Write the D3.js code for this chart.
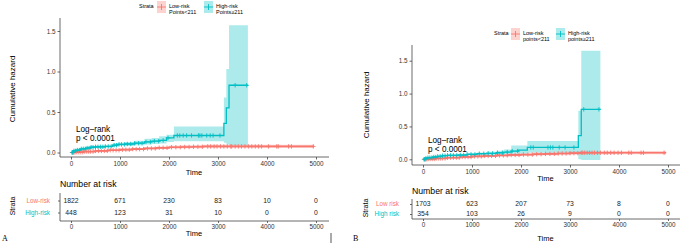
<!DOCTYPE html>
<html>
<head>
<meta charset="utf-8">
<script src="https://cdn.jsdelivr.net/npm/d3@7"></script>
<style>
  body { margin: 0; background: #fff; }
  svg text { font-family: "Liberation Sans", Arial, sans-serif; }
</style>
</head>
<body>
<div id="chart"></div>
<script>
// ---- data ----
const timeTicks = [0, 1000, 2000, 3000, 4000, 5000];
const hazTicks = [0, 0.5, 1.0, 1.5];

// Panel A, high risk (step curve + 95% band)
const hiA_time  = [0, 40, 100, 200, 300, 400, 500, 700, 850, 950, 1100, 1300, 1500, 1650, 1800, 1950, 2100, 3120, 3170, 3225, 3610];
const hiA_haz   = [0, 0.02, 0.03, 0.045, 0.055, 0.065, 0.07, 0.075, 0.09, 0.10, 0.105, 0.115, 0.13, 0.14, 0.15, 0.18, 0.21, 0.36, 0.55, 0.83, 0.83];
const hiA_upper = [0, 0.035, 0.045, 0.06, 0.07, 0.08, 0.085, 0.09, 0.11, 0.12, 0.13, 0.145, 0.17, 0.18, 0.2, 0.22, 0.32, 0.68, 1.03, 1.57, 1.57];
const hiA_lower = [0, 0.005, 0.015, 0.03, 0.04, 0.05, 0.055, 0.06, 0.07, 0.08, 0.08, 0.09, 0.1, 0.105, 0.11, 0.13, 0.14, 0.12, 0.1, 0.09, 0.09];
const hiA_cens  = [30, 60, 90, 130, 170, 210, 250, 290, 330, 370, 410, 450, 500, 550, 600, 650, 700, 760, 820, 880, 930, 980, 1030, 1090, 1150, 1220, 1300, 1380, 1450, 1530, 1620, 1700, 1790, 1880, 1980, 2170, 2220, 2290, 2360, 2460, 2600, 2630, 2670, 2770, 2840, 2900, 3040, 3350, 3585];

// Panel A, low risk
const loA_time  = [0, 100, 250, 500, 750, 1000, 1250, 1500, 1750, 2000, 2250, 2500, 2700, 4960];
const loA_haz   = [0, 0.004, 0.012, 0.02, 0.028, 0.035, 0.042, 0.05, 0.058, 0.065, 0.068, 0.071, 0.075, 0.075];
const loA_upper = [0, 0.01, 0.02, 0.03, 0.04, 0.048, 0.056, 0.065, 0.074, 0.083, 0.088, 0.092, 0.097, 0.097];
const loA_lower = [0, 0.0, 0.005, 0.011, 0.018, 0.024, 0.03, 0.037, 0.044, 0.05, 0.052, 0.054, 0.056, 0.056];
const loA_cens  = [20, 50, 80, 120, 160, 200, 240, 280, 320, 360, 400, 450, 500, 560, 620, 680, 740, 800, 860, 920, 980, 1050, 1120, 1190, 1260, 1330, 1400, 1480, 1560, 1640, 1720, 1800, 1880, 1960, 2050, 2140, 2230, 2320, 2410, 2500, 2590, 2680, 2790, 2850, 2920, 2980, 3050, 3120, 3190, 3260, 3280, 3350, 3415, 3480, 3550, 3620, 3690, 3760, 3825, 3890, 4030, 4200, 4230, 4440, 4500, 4945];

// Panel B, high risk
const hiB_time  = [0, 40, 100, 200, 300, 400, 500, 700, 900, 1100, 1300, 1500, 1650, 1800, 1950, 2130, 3170, 3230, 3620];
const hiB_haz   = [0, 0.015, 0.025, 0.035, 0.045, 0.055, 0.06, 0.065, 0.075, 0.085, 0.09, 0.10, 0.11, 0.125, 0.14, 0.18, 0.36, 0.76, 0.76];
const hiB_upper = [0, 0.03, 0.04, 0.05, 0.06, 0.07, 0.075, 0.08, 0.095, 0.105, 0.115, 0.13, 0.15, 0.21, 0.21, 0.28, 0.74, 1.65, 1.65];
const hiB_lower = [0, 0.003, 0.01, 0.02, 0.03, 0.04, 0.045, 0.05, 0.058, 0.065, 0.068, 0.074, 0.08, 0.085, 0.09, 0.1, 0.0, -0.01, -0.01];
const hiB_cens  = [30, 60, 100, 140, 180, 220, 260, 300, 350, 400, 450, 500, 560, 620, 690, 760, 830, 900, 980, 1060, 1150, 1240, 1330, 1420, 1520, 1620, 1720, 1820, 1930, 2200, 2250, 2550, 2600, 2650, 2780, 2900, 3080, 3280, 3590];

// Panel B, low risk
const loB_time  = [0, 100, 250, 500, 750, 1000, 1250, 1500, 1750, 2000, 2250, 2500, 2750, 3000, 3200, 4960];
const loB_haz   = [0, 0.005, 0.014, 0.025, 0.035, 0.045, 0.052, 0.06, 0.066, 0.072, 0.078, 0.083, 0.088, 0.093, 0.1, 0.1];
const loB_upper = [0, 0.012, 0.025, 0.038, 0.05, 0.061, 0.069, 0.078, 0.085, 0.093, 0.1, 0.107, 0.113, 0.119, 0.128, 0.128];
const loB_lower = [0, 0.0, 0.006, 0.014, 0.022, 0.03, 0.036, 0.043, 0.048, 0.053, 0.058, 0.062, 0.066, 0.07, 0.075, 0.075];
const loB_cens  = [20, 50, 80, 120, 160, 200, 240, 280, 320, 360, 400, 450, 500, 560, 620, 680, 740, 800, 860, 920, 980, 1050, 1120, 1190, 1260, 1330, 1400, 1480, 1560, 1640, 1720, 1800, 1880, 1960, 2050, 2140, 2230, 2320, 2410, 2500, 2590, 2680, 2760, 2840, 2920, 3000, 3080, 3160, 3230, 3260, 3300, 3350, 3400, 3450, 3500, 3560, 3620, 3700, 3760, 3830, 3900, 3980, 4050, 4200, 4250, 4450, 4500, 4920];

// numbers at risk
const riskA_low  = [1822, 671, 230, 83, 10, 0];
const riskA_high = [448, 123, 31, 10, 0, 0];
const riskB_low  = [1703, 623, 207, 73, 8, 0];
const riskB_high = [354, 103, 26, 9, 0, 0];

const RED = "#F8766D", TEAL = "#00BFC4";

const svg = d3.select("#chart").append("svg")
    .attr("width", 685)
    .attr("height", 243);

function curve(time, haz) {
    return time.map((t, i) => ({t: t, v: haz[i]}));
}
function band(time, lo, hi) {
    return time.map((t, i) => ({t: t, lo: lo[i], hi: hi[i]}));
}

function drawPanel(p) {
    let g = svg.append("g");

    let x = d3.scaleLinear().domain([0, 5000]).range(p.xRange);
    let y = d3.scaleLinear().domain([0, 1.5]).range(p.yRange);

    // bands first, then lines
    let area = d3.area().curve(d3.curveStepAfter)
        .x(d => x(d.t)).y0(d => y(d.lo)).y1(d => y(d.hi));
    let line = d3.line().curve(d3.curveStepAfter)
        .x(d => x(d.t)).y(d => y(d.v));

    p.series.forEach(s => {
        g.append("path")
            .attr("d", area(band(s.time, s.lower, s.upper)))
            .attr("fill", s.color)
            .attr("opacity", 0.32);
    });
    p.series.forEach(s => {
        let pts = curve(s.time, s.haz);
        g.append("path")
            .attr("d", line(pts))
            .attr("fill", "none")
            .attr("stroke", s.color)
            .attr("stroke-width", s.color == RED ? 1.7 : 1.3);
        // censor marks on the step function
        let stepAt = t => {
            let i = d3.bisectRight(s.time, t) - 1;
            return s.haz[Math.max(0, i)];
        };
        g.selectAll(null).data(s.cens).join("path")
            .attr("d", d => {
                let cx = x(d), cy = y(stepAt(d));
                return `M${cx - 2.2},${cy}H${cx + 2.2}M${cx},${cy - 2.2}V${cy + 2.2}`;
            })
            .attr("stroke", s.color)
            .attr("stroke-width", 0.9);
    });

    // axes
    let yAx = d3.axisLeft(y).tickValues(hazTicks).tickSize(2.5).tickPadding(2)
        .tickFormat(d3.format(".1f"));
    g.append("g")
        .attr("transform", `translate(${p.axisX},0)`)
        .call(yAx)
        .call(a => a.select(".domain").attr("d", `M0,${p.axisTop}V${p.axisBottom}`));
    let xAx = d3.axisBottom(x).tickValues(timeTicks).tickSize(2.5).tickPadding(2)
        .tickFormat(d3.format("d"));
    g.append("g")
        .attr("transform", `translate(0,${p.axisBottom})`)
        .call(xAx)
        .call(a => a.select(".domain").attr("d", `M${p.axisX},0H${p.axisRight}`));
    g.selectAll(".tick text").attr("font-size", 6.3).attr("fill", "#333");
    g.selectAll(".domain, .tick line").attr("stroke", "#444").attr("stroke-width", 0.8);

    g.append("text")
        .attr("x", (p.xRange[0] + p.axisRight) / 2 - 6).attr("y", p.timeY)
        .attr("text-anchor", "middle").attr("font-size", 7.5).text("Time");
    g.append("text")
        .attr("transform", `translate(${p.ylabX},${p.ylabY}) rotate(-90)`)
        .attr("text-anchor", "middle").attr("font-size", 8).text("Cumulative hazard");

    // log-rank annotation
    g.append("text").attr("x", p.lrX).attr("y", p.lrY).attr("font-size", 8.2).text("Log\u2013rank");
    g.append("text").attr("x", p.lrX).attr("y", p.lrY + 8.5).attr("font-size", 8.2).text("p < 0.0001");

    // legend
    let lg = g.append("g").attr("transform", `translate(${p.legX},${p.legY})`);
    lg.append("text").attr("x", 0).attr("y", 2).attr("font-size", 5.5).text("Strata");
    p.series.forEach((s, i) => {
        let kx = p.legKeys[i];
        lg.append("rect").attr("x", kx).attr("y", -5).attr("width", 9).attr("height", 12)
            .attr("fill", s.color).attr("opacity", 0.32);
        lg.append("path").attr("d", `M${kx},1H${kx + 9}M${kx + 4.5},-2V4`)
            .attr("stroke", s.color).attr("stroke-width", 0.9);
        lg.append("text").attr("x", kx + 12).attr("y", 2).attr("font-size", 5.5).text(s.leg1);
        lg.append("text").attr("x", kx + 12).attr("y", 8).attr("font-size", 5.5).text(s.leg2);
    });

    // risk table
    let t = p.table;
    g.append("text").attr("x", p.axisX).attr("y", t.titleY).attr("dominant-baseline", "middle")
        .attr("font-size", 8.7).text("Number at risk");
    let rows = [
        {label: p.series[0].rowLabel, vals: t.low, color: RED, y: t.row1},
        {label: p.series[1].rowLabel, vals: t.high, color: TEAL, y: t.row2}
    ];
    rows.forEach(r => {
        g.selectAll(null).data(r.vals).join("text")
            .attr("x", (d, i) => x(timeTicks[i])).attr("y", r.y)
            .attr("text-anchor", "middle").attr("dominant-baseline", "middle")
            .attr("font-size", 6.8).attr("fill", "#222").text(d => d);
        g.append("text").attr("x", t.labelX).attr("y", r.y)
            .attr("text-anchor", "end").attr("dominant-baseline", "middle")
            .attr("font-size", 6.3).attr("fill", r.color).text(r.label);
        g.append("line").attr("x1", p.axisX - 2).attr("x2", p.axisX)
            .attr("y1", r.y).attr("y2", r.y).attr("stroke", "#444").attr("stroke-width", 0.8);
    });
    g.append("line").attr("x1", p.axisX).attr("x2", p.axisX)
        .attr("y1", t.top).attr("y2", t.axisY).attr("stroke", "#444").attr("stroke-width", 0.8);
    let tg = g.append("g").attr("transform", `translate(0,${t.axisY})`)
        .call(d3.axisBottom(x).tickValues(timeTicks).tickSize(2).tickPadding(2).tickFormat(d3.format("d")))
        .call(a => a.select(".domain").attr("d", `M${p.axisX},0H${p.axisRight}`));
    tg.selectAll(".tick text").attr("font-size", 6.3).attr("fill", "#333");
    tg.selectAll(".domain, .tick line").attr("stroke", "#444").attr("stroke-width", 0.8);
    g.append("text")
        .attr("x", (p.xRange[0] + p.axisRight) / 2 - 6).attr("y", t.timeY)
        .attr("text-anchor", "middle").attr("font-size", 7.5).text("Time");
    g.append("text")
        .attr("transform", `translate(${t.strataX},${t.strataY}) rotate(-90)`)
        .attr("text-anchor", "middle").attr("dominant-baseline", "middle")
        .attr("font-size", 7).text("Strata");

    g.append("text").attr("x", p.tagX).attr("y", p.tagY)
        .style("font-family", "'Liberation Serif', 'Times New Roman', serif")
        .attr("font-size", 8).text(p.tag);
}

drawPanel({
    tag: "A", tagX: 2, tagY: 241,
    xRange: [71, 316], yRange: [152.5, 31],
    axisX: 60, axisTop: 18, axisBottom: 157, axisRight: 329,
    timeY: 175, ylabX: 15, ylabY: 89,
    lrX: 76, lrY: 132,
    legX: 139, legY: 6, legKeys: [18, 65],
    series: [
        {time: loA_time, haz: loA_haz, upper: loA_upper, lower: loA_lower, cens: loA_cens, color: RED,
         leg1: "Low-risk", leg2: "Points<211", rowLabel: "Low-risk"},
        {time: hiA_time, haz: hiA_haz, upper: hiA_upper, lower: hiA_lower, cens: hiA_cens, color: TEAL,
         leg1: "High-risk", leg2: "Points\u2265211", rowLabel: "High-risk"}
    ],
    table: {low: riskA_low, high: riskA_high, titleY: 185, row1: 201, row2: 213, top: 193, axisY: 221,
            timeY: 236, labelX: 50, strataX: 13, strataY: 206}
});

drawPanel({
    tag: "B", tagX: 353, tagY: 241,
    xRange: [423, 668], yRange: [159.3, 60.7],
    axisX: 412, axisTop: 45, axisBottom: 165, axisRight: 680,
    timeY: 181, ylabX: 369, ylabY: 105,
    lrX: 428, lrY: 143,
    legX: 494, legY: 33, legKeys: [17, 62],
    series: [
        {time: loB_time, haz: loB_haz, upper: loB_upper, lower: loB_lower, cens: loB_cens, color: RED,
         leg1: "Low-risk", leg2: "points<211", rowLabel: "Low risk"},
        {time: hiB_time, haz: hiB_haz, upper: hiB_upper, lower: hiB_lower, cens: hiB_cens, color: TEAL,
         leg1: "High-risk", leg2: "points\u2265211", rowLabel: "High risk"}
    ],
    table: {low: riskB_low, high: riskB_high, titleY: 192, row1: 204.5, row2: 214.5, top: 199, axisY: 219,
            timeY: 240.5, labelX: 399, strataX: 366, strataY: 208}
});

// small separator mark in the lower middle
svg.append("line").attr("x1", 331).attr("x2", 331).attr("y1", 233).attr("y2", 243)
    .attr("stroke", "#555").attr("stroke-width", 1);
</script>
</body>
</html>
